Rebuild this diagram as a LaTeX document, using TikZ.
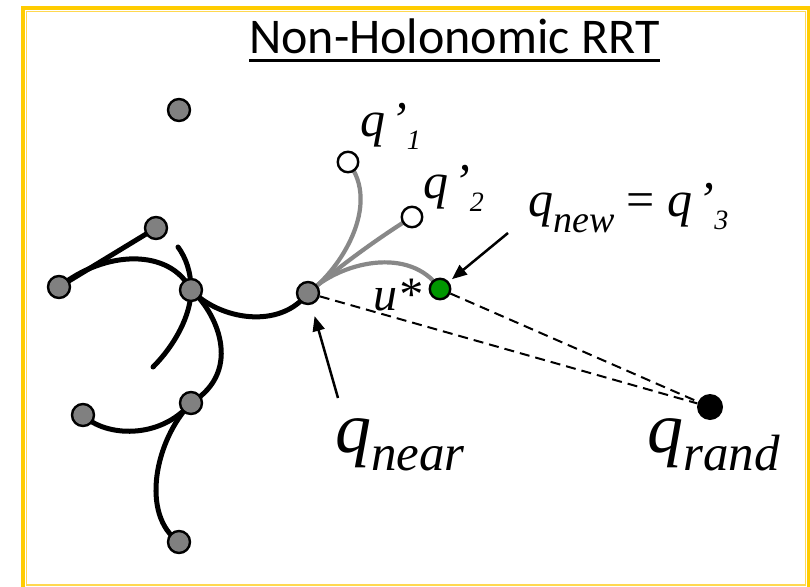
\documentclass[tikz,border=0pt]{standalone}
\usepackage{fontspec}
\setmainfont{Liberation Serif}
\newfontfamily\titlefont{Carlito}
\usetikzlibrary{arrows.meta,backgrounds}

\definecolor{framegold}{RGB}{255,204,0}
\definecolor{framelight}{RGB}{255,216,80}
\definecolor{dotgray}{RGB}{128,128,128}
\definecolor{trialgray}{RGB}{136,136,136}
\definecolor{newgreen}{RGB}{0,150,0}

% q with a subscript, and q' with a subscript
\newcommand{\qsub}[3]{\textit{q}\raisebox{-#3}{\fontsize{#2}{#2}\selectfont\textit{#1}}}
\newcommand{\qprm}[1]{\textit{q\kern5pt’}\raisebox{-13pt}{\fontsize{28}{28}\selectfont\textit{#1}}}

\begin{document}
\begin{tikzpicture}[
    x=1pt, y=-1pt,
    dot/.style={circle, draw=black, line width=2.4pt, fill=dotgray,
                minimum size=22pt, inner sep=0pt},
    hollow/.style={dot, fill=white, minimum size=20.5pt},
    newdot/.style={dot, fill=newgreen, minimum size=20.5pt},
    randdot/.style={circle, fill=black, minimum size=26pt, inner sep=0pt},
    branch/.style={line width=5pt, line cap=round},
    trial/.style={line width=4.2pt, draw=trialgray, line cap=round},
    guide/.style={dash pattern=on 10pt off 6pt, line width=2pt},
    arr/.style={-{Triangle[length=15pt,width=12pt]}, line width=2.5pt},
    lbl/.style={anchor=base west, inner sep=0pt, font=\fontsize{50}{56}\selectfont},
    biglbl/.style={lbl, font=\fontsize{72}{80}\selectfont},
]
\useasboundingbox (0,0) rectangle (810,586);
\clip (0,0) rectangle (810,586);

% frame
\draw[framegold, line width=4pt] (23,8.5) rectangle (808.5,600);
\draw[framelight, line width=1.3pt] (26.7,11.7) rectangle (805.3,585);

% title
\node[anchor=base west, inner sep=0pt, font=\titlefont\fontsize{50}{56}\selectfont]
    (title) at (249,53) {Non-Holonomic RRT};
\draw[line width=3pt] ([yshift=-7pt]title.base west) -- ([yshift=-7pt]title.base east);

% tree
\node[dot] (lone) at (179,110) {};
\node[dot] (tl) at (156,228) {};
\node[dot] (lf) at (59,287) {};
\node[dot] (md) at (191,290) {};
\node[dot] (near) at (308,293) {};
\node[dot] (lw) at (83,415) {};
\node[dot] (jn) at (191,403) {};
\node[dot] (bt) at (179,542) {};
\coordinate (mdtop) at (178,247);
\coordinate (mdend) at (153,367);

% trial states
\node[hollow] (q1) at (348,162) {};
\node[hollow] (q2) at (412,217) {};
\node[newdot] (qnew) at (440,289) {};
\node[randdot] (rand) at (710,407) {};

\begin{scope}[on background layer]
\fill[white] (0,0) rectangle (810,586);
\draw[branch] (lf.center) -- (tl.center);
\draw[branch] (lf.center) .. controls (105,250) and (170,248) .. (md.center);
\draw[branch] (mdtop) .. controls (186,258) and (191,272) .. (md.center)
              .. controls (191,315) and (175,345) .. (mdend);
\draw[branch] (md.center) .. controls (215,310) and (245,370) .. (jn.center);
\draw[branch] (md.center) .. controls (220,320) and (280,330) .. (near.center);
\draw[branch] (lw.center) .. controls (105,437) and (160,440) .. (jn.center);
\draw[branch] (jn.center) .. controls (155,440) and (140,515) .. (bt.center);

\draw[trial] (near.center) .. controls (340,270) and (382,205) .. (q1.center);
\draw[trial] (near.center) .. controls (345,262) and (380,237) .. (q2.center);
\draw[trial] (near.center) .. controls (340,262) and (410,245) .. (qnew.center);

\draw[guide] (near) -- (rand);
\draw[guide] (qnew) -- (rand);
\end{scope}

% arrows
\coordinate (anew) at (508,233);
\coordinate (anear) at (338,398);
\draw[arr, shorten >=4pt] (anew) -- (qnew);
\draw[arr, shorten >=24pt] (anear) -- (near.center);

% labels
\node[lbl] (l1) at (360,136) {\qprm{1}};
\node[lbl] (l2) at (423,198) {\qprm{2}};
\node[lbl] (lnew) at (528,216) {\qsub{new}{38}{16pt} = \qprm{3}};
\node[lbl, font=\fontsize{48}{54}\selectfont] (lu) at (373,310) {\textit{u*}};
\node[biglbl] (lnear) at (335,452) {\qsub{near}{51}{18pt}};
\node[biglbl] (lrand) at (647,452) {\qsub{rand}{51}{18pt}};

\end{tikzpicture}
\end{document}
